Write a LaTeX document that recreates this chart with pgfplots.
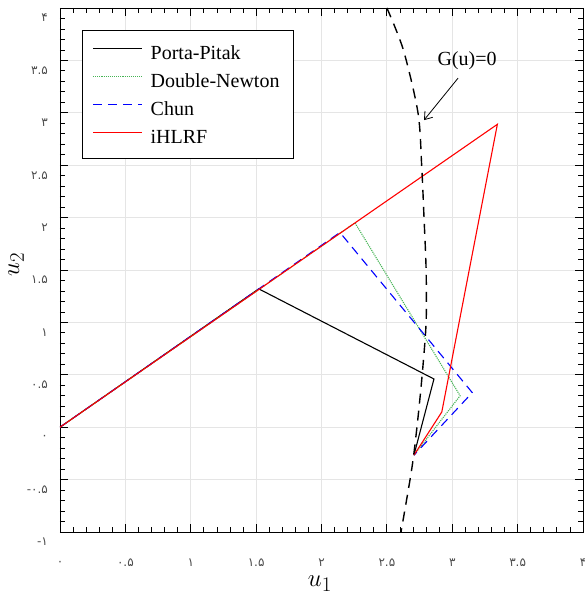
\documentclass[border=0pt]{standalone}
\usepackage{fontspec}
\setmainfont{Liberation Serif}
\newfontfamily\pfont{DejaVu Sans}
\usepackage{pgfplots}
\pgfplotsset{compat=1.18}
\usetikzlibrary{arrows.meta}
\definecolor{dngreen}{RGB}{70,180,85}
\newcommand{\lgf}{\fontsize{20}{24}\selectfont}
\begin{document}
\begin{tikzpicture}
\begin{axis}[
  scale only axis, width=523pt, height=524pt,
  xmin=0, xmax=4, ymin=-1, ymax=4,
  xtick={0,0.5,1,1.5,2,2.5,3,3.5,4},
  ytick={-1,-0.5,0,0.5,1,1.5,2,2.5,3,3.5,4},
  xticklabels={۰,۰.۵,۱,۱.۵,۲,۲.۵,۳,۳.۵,۴},
  yticklabels={-۱,-۰.۵,۰,۰.۵,۱,۱.۵,۲,۲.۵,۳,۳.۵,۴},
  minor tick num=4,
  tick align=inside,
  major tick length=8pt, minor tick length=5pt,
  grid=major, major grid style={gray!20, line width=0.8pt},
  axis line style={line width=0.9pt},
  every tick/.style={black, line width=0.8pt},
  xticklabel style={font=\pfont\fontsize{12}{14}\selectfont, text=black!70, anchor=center, yshift=-31pt},
  yticklabel style={font=\pfont\fontsize{12}{14}\selectfont, text=black!70, anchor=east, inner sep=0pt, xshift=-12pt, yshift=-10pt},
  xlabel={$u_1$},
  xlabel style={at={(axis description cs:0.497,-0.099)}, anchor=center, font=\fontsize{28}{30}\selectfont},
  ylabel={$u_2$},
  ylabel style={at={(axis description cs:-0.084,0.51)}, anchor=center, font=\fontsize{28}{30}\selectfont},
  legend style={at={(axis description cs:0.042,0.958)}, anchor=north west,
    draw=black, line width=0.8pt, inner xsep=10pt, inner ysep=8pt, column sep=4pt,
    nodes={inner xsep=4pt, inner ysep=7pt, text height=14pt, text depth=0pt}},
  legend cell align=left,
  legend image code/.code={\draw[line width=1.3pt,#1] (0pt,4pt) -- (49pt,4pt);},
]
\addplot[black, line width=1.1pt] coordinates {(0,0) (1.52,1.32) (2.86,0.46) (2.707,-0.267)};
\addlegendentry{\lgf Porta-Pitak}
\addplot[dngreen, densely dotted, line width=1.1pt] coordinates {(0,0) (2.256,1.95) (3.06,0.30) (2.707,-0.267)};
\addlegendentry{\lgf Double-Newton}
\addplot[blue, dash pattern=on 9pt off 6pt, line width=1.1pt] coordinates {(0,0) (2.141,1.858) (3.153,0.33) (2.707,-0.267)};
\addlegendentry{\lgf Chun}
\addplot[red, line width=1.1pt] coordinates {(0,0) (3.345,2.89) (2.92,0.145) (2.707,-0.267)};
\addlegendentry{\lgf iHLRF}
\addplot[black, dash pattern=on 10pt off 7pt, line width=1.4pt, smooth, forget plot] coordinates {(2.50,4.0) (2.626,3.6) (2.738,3.0) (2.766,2.5) (2.784,2.0) (2.80,1.5) (2.80,1.0) (2.77,0.5) (2.73,0.0) (2.69,-0.4) (2.608,-1.0)};
\draw[-{Straight Barb[length=7pt,width=10pt]}, line width=0.8pt] (axis cs:3.044,3.33) -- (axis cs:2.784,2.93);
\node[font=\lgf] at (axis cs:3.113,3.50) {G(u)=0};
\end{axis}
\pgfresetboundingbox
\path ([shift={(-60pt,-63pt)}]current axis.south west) rectangle ([shift={(1pt,8pt)}]current axis.north east);
\end{tikzpicture}
\end{document}
